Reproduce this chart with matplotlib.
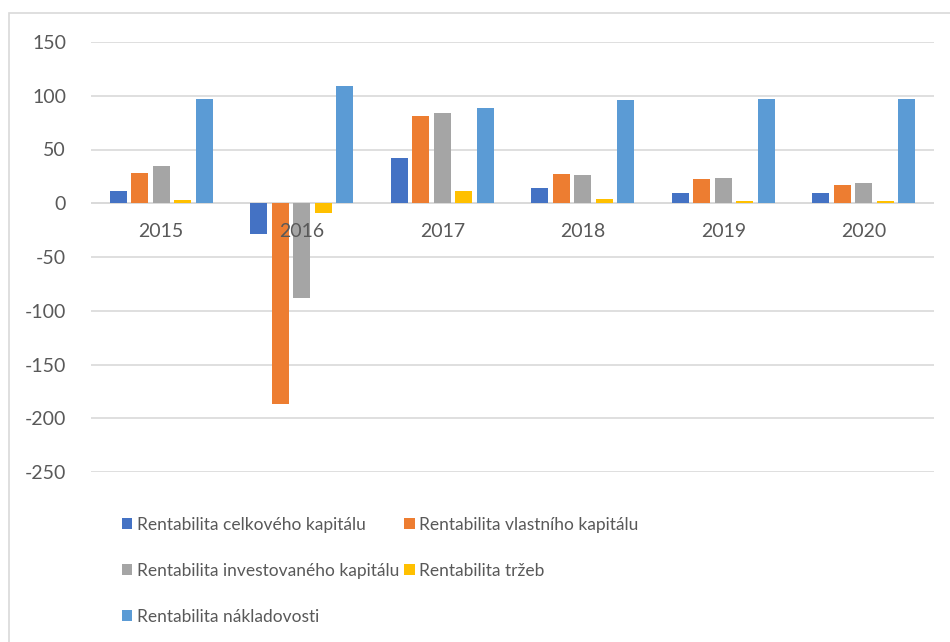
import numpy as np
import matplotlib.pyplot as plt
from matplotlib.patches import Rectangle

years = ['2015', '2016', '2017', '2018', '2019', '2020']
series_names = ['Rentabilita celkového kapitálu',
                'Rentabilita vlastního kapitálu',
                'Rentabilita investovaného kapitálu',
                'Rentabilita tržeb',
                'Rentabilita nákladovosti']
celkovy = [11.5, -29, 41.9, 14.6, 9.6, 9.6]
vlastni = [28.5, -186.5, 81.3, 27, 22.7, 17.4]
investovany = [34.8, -87.8, 83.5, 26, 23.6, 19.2]
trzby = [3.1, -8.7, 11.2, 3.7, 2.5, 2.5]
nakladovost = [96.9, 109, 88.8, 95.6, 96.9, 96.9]
colors = ['#4472c4', '#ed7d31', '#a5a5a5', '#ffc000', '#5b9bd5']

plt.rcParams['font.family'] = ['Lato', 'DejaVu Sans']
plt.rcParams['axes.unicode_minus'] = False

fig = plt.figure(figsize=(9.5, 6.42), dpi=100)
fig.patches.append(Rectangle((9 / 950, -0.1), 1.0, 1.1 - 13.5 / 642,
                             transform=fig.transFigure, fill=False,
                             edgecolor='#d9d9d9', linewidth=1.2))
ax = fig.add_axes([91 / 950, 1 - 472 / 642, 843 / 950, 430 / 642])

x = np.arange(len(years))
step = 0.153
width = 0.122
data = [celkovy, vlastni, investovany, trzby, nakladovost]
bars = []
for i, vals in enumerate(data):
  bars.append(ax.bar(x + (i - 2) * step, vals, width, color=colors[i],
                     label=series_names[i], zorder=3))

ax.set_xlim(-0.5, len(years) - 0.5)
ax.set_ylim(-250, 150)
ax.set_yticks(range(-250, 151, 50))
ax.yaxis.grid(True, color='#d9d9d9', linewidth=1.2, zorder=0)
ax.tick_params(axis='y', length=0, labelsize=14, labelcolor='#595959', pad=18)
ax.set_xticks([])
for s in ax.spines.values():
  s.set_visible(False)
ax.axhline(0, color='#d9d9d9', linewidth=1.2, zorder=2)
for xi, y in zip(x, years):
  ax.text(xi, -18, y, ha='center', va='top', fontsize=14, color='#595959')

# legend fills column-wise, so reorder to get row-wise reading
order = [0, 2, 4, 1, 3]
ax.legend([bars[i] for i in order], [series_names[i] for i in order],
          loc='upper left', bbox_to_anchor=(115 / 950, 1 - 510 / 642),
          bbox_transform=fig.transFigure, ncol=2, frameon=False,
          fontsize=12.5, labelcolor='#595959', handlelength=0.6,
          handleheight=0.6, handletextpad=0.25, columnspacing=0.3,
          labelspacing=1.72, borderaxespad=0)

plt.savefig('out.png')
